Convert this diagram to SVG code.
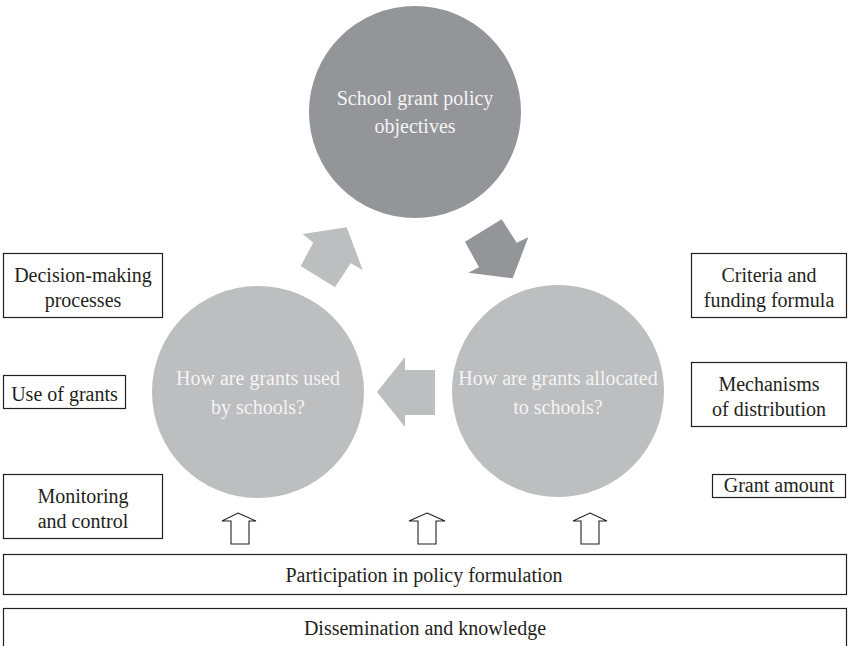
<svg xmlns="http://www.w3.org/2000/svg" width="848" height="646" viewBox="0 0 848 646">
<style>
.box{fill:#fff;stroke:#231f20;stroke-width:1.2}
.t{font-family:"Liberation Serif","Times New Roman",serif;font-size:20px;fill:#231f20;text-anchor:middle}
.ct{font-family:"Liberation Serif","Times New Roman",serif;font-size:20px;fill:#f4f4f4;text-anchor:middle}
.dark{fill:#939598}
.light{fill:#bcbec0}
.up{fill:#fff;stroke:#231f20;stroke-width:1.1;stroke-linejoin:miter}
</style>
<rect width="848" height="646" fill="#fff"/>
<g id="objectives">
<circle class="dark" cx="415" cy="112" r="106"/>
<text class="ct" x="415" y="105">School grant policy</text>
<text class="ct" x="415" y="133">objectives</text>
</g>
<g id="used">
<circle class="light" cx="258" cy="392" r="106"/>
<text class="ct" x="258" y="385">How are grants used</text>
<text class="ct" x="258" y="414">by schools?</text>
</g>
<g id="allocated">
<circle class="light" cx="558" cy="391" r="106"/>
<text class="ct" x="558" y="385">How are grants allocated</text>
<text class="ct" x="558" y="414">to schools?</text>
</g>
<g id="connectors">
<polygon class="light" points="302.7,234 346.7,227.3 362.7,270 350.7,263.3 335,287.3 300.7,266 313.3,242.7"/>
<polygon class="dark" points="465,241.7 501.7,219.3 516.7,242.7 528.3,237.3 512.7,278.3 468.3,272.7 479,267.3"/>
<polygon class="light" points="377,392 405,357 405,370 435,370 435,415 405,415 405,427"/>
<polygon class="up" points="238,513 256,521 249,521 249,544 231,544 231,521 222,521"/>
<polygon class="up" points="427,513 445,521 436,521 436,544 418,544 418,521 409,521"/>
<polygon class="up" points="590,513 607,521 599,521 599,544 581,544 581,521 573,521"/>
</g>
<g id="decision">
<rect class="box" x="3.5" y="253.5" width="159" height="64"/>
<text class="t" x="83" y="282">Decision-making</text>
<text class="t" x="83" y="307">processes</text>
</g>
<g id="use">
<rect class="box" x="3.5" y="375.5" width="122" height="33"/>
<text class="t" x="64.5" y="401">Use of grants</text>
</g>
<g id="monitoring">
<rect class="box" x="3.5" y="474.5" width="159" height="64"/>
<text class="t" x="83" y="503">Monitoring</text>
<text class="t" x="83" y="528">and control</text>
</g>
<g id="criteria">
<rect class="box" x="691.5" y="253.5" width="155" height="64"/>
<text class="t" x="769" y="282">Criteria and</text>
<text class="t" x="769" y="307">funding formula</text>
</g>
<g id="mechanisms">
<rect class="box" x="691.5" y="362.5" width="155" height="64"/>
<text class="t" x="769" y="391">Mechanisms</text>
<text class="t" x="769" y="416">of distribution</text>
</g>
<g id="amount">
<rect class="box" x="712.5" y="474.5" width="133" height="23"/>
<text class="t" x="779" y="492">Grant amount</text>
</g>
<g id="participation">
<rect class="box" x="3.5" y="554.5" width="843" height="40"/>
<text class="t" x="424" y="582">Participation in policy formulation</text>
</g>
<g id="dissemination">
<rect class="box" x="3.5" y="608.5" width="843" height="40"/>
<text class="t" x="425" y="635">Dissemination and knowledge</text>
</g>
</svg>
